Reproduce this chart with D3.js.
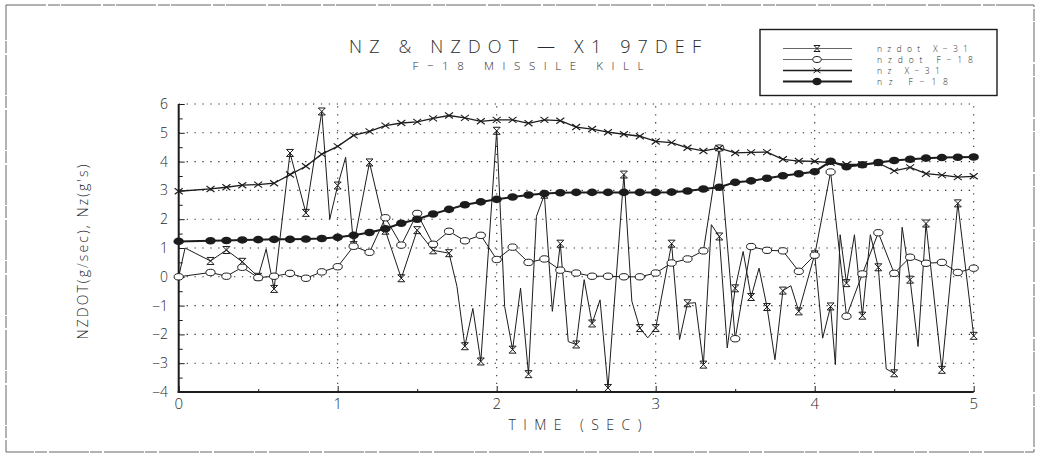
<!DOCTYPE html>
<html>
<head>
<meta charset="utf-8">
<script src="https://cdn.jsdelivr.net/npm/d3@7"></script>
<style>
  html, body { margin: 0; padding: 0; background: #fff; }
  svg { display: block; }
  text { font-family: "Open Sans", "DejaVu Sans", sans-serif; font-weight: 300; fill: #2a2a2a; }
</style>
</head>
<body>
<svg id="chart" width="1042" height="455"></svg>
<script>
// Sample times (s) shared by the 0.1 s channels
const timeNz = [0, 0.2, 0.3, 0.4, 0.5, 0.6, 0.7, 0.8, 0.9, 1.0,
  1.1, 1.2, 1.3, 1.4, 1.5, 1.6, 1.7, 1.8, 1.9, 2.0,
  2.1, 2.2, 2.3, 2.4, 2.5, 2.6, 2.7, 2.8, 2.9, 3.0,
  3.1, 3.2, 3.3, 3.4, 3.5, 3.6, 3.7, 3.8, 3.9, 4.0,
  4.1, 4.2, 4.3, 4.4, 4.5, 4.6, 4.7, 4.8, 4.9, 5.0];

// nz X-31 (g's)
const nzX31 = [2.97, 3.05, 3.11, 3.18, 3.2, 3.25, 3.55, 3.84, 4.26, 4.53,
  4.91, 5.05, 5.25, 5.34, 5.38, 5.5, 5.6, 5.52, 5.4, 5.45,
  5.45, 5.33, 5.45, 5.42, 5.2, 5.13, 5.02, 4.95, 4.88, 4.7,
  4.66, 4.48, 4.37, 4.47, 4.3, 4.32, 4.33, 4.08, 4.02, 4.01,
  3.96, 3.9, 3.9, 3.95, 3.68, 3.8, 3.58, 3.53, 3.46, 3.49];

// nz F-18 (g's)
const nzF18 = [1.23, 1.25, 1.26, 1.28, 1.29, 1.3, 1.3, 1.31, 1.33, 1.37,
  1.44, 1.54, 1.67, 1.86, 2.0, 2.18, 2.34, 2.5, 2.6, 2.69,
  2.77, 2.84, 2.89, 2.92, 2.93, 2.93, 2.93, 2.93, 2.93, 2.93,
  2.94, 2.98, 3.05, 3.11, 3.28, 3.33, 3.42, 3.51, 3.58, 3.65,
  4.01, 3.82, 3.89, 3.97, 4.04, 4.08, 4.12, 4.14, 4.15, 4.16];

// nzdot F-18 (g/sec)
const nzdotF18 = [0.0, 0.15, 0.02, 0.33, -0.03, 0.02, 0.12, -0.05, 0.17, 0.35,
  1.06, 0.85, 2.05, 1.1, 2.2, 1.13, 1.58, 1.25, 1.44, 0.6,
  1.03, 0.5, 0.62, 0.23, 0.13, 0.02, 0.02, 0.0, 0.0, 0.13,
  0.48, 0.62, 0.9, 4.47, -2.15, 1.05, 0.92, 0.9, 0.19, 0.75,
  3.64, -1.37, 0.1, 1.53, 0.12, 0.68, 0.47, 0.5, 0.15, 0.3];

// nzdot X-31 (g/sec), finer sampling
const timeNzdotX31 = [0, 0.04, 0.2, 0.3, 0.4, 0.5, 0.55, 0.6, 0.7, 0.8, 0.9, 0.95,
  1.0, 1.05, 1.1, 1.2, 1.3, 1.4, 1.5, 1.6, 1.7, 1.75, 1.8, 1.85, 1.9,
  2.0, 2.05, 2.1, 2.15, 2.2, 2.25, 2.3, 2.35, 2.4, 2.45, 2.5, 2.55, 2.6, 2.65, 2.7,
  2.8, 2.85, 2.9, 2.95, 3.0, 3.1, 3.15, 3.2, 3.25, 3.3, 3.35, 3.4, 3.45, 3.5,
  3.55, 3.6, 3.65, 3.7, 3.75, 3.8, 3.85, 3.9, 4.0, 4.05, 4.1, 4.13, 4.16,
  4.2, 4.25, 4.3, 4.35, 4.4, 4.45, 4.5, 4.55, 4.6, 4.65, 4.7, 4.8, 4.9, 5.0];
const nzdotX31 = [0.0, 1.0, 0.55, 0.93, 0.52, 0.0, 0.96, -0.42, 4.3, 2.22, 5.74, 2.0,
  3.17, 4.15, 1.1, 3.97, 1.6, -0.05, 1.62, 0.92, 0.82, -0.33, -2.41, -1.1, -2.94,
  5.07, -1.03, -2.53, -0.39, -3.38, 2.1, 2.85, -1.2, 1.15, -2.25, -2.35, -0.1, -1.62, -0.8, -3.86,
  3.55, -0.85, -1.78, -2.12, -1.78, 1.15, -2.18, -0.92, -0.9, -3.05, 1.81, 1.4, -2.47, -0.4,
  0.88, -0.7, 0.3, -1.05, -2.88, -0.48, -0.31, -1.2, 0.78, -2.13, -1.03, -3.05, 1.46,
  -0.22, 1.46, -1.35, 1.46, 0.33, -3.2, -3.35, 1.72, -0.1, -2.42, 1.85, -3.23, 2.55, -2.05];

const xTicks = [0, 1, 2, 3, 4, 5];
const yTicks = [-4, -3, -2, -1, 0, 1, 2, 3, 4, 5, 6];
const legendLabels = ["nzdot X\u221231", "nzdot F\u221218", "nz X\u221231", "nz F\u221218"];

const svg = d3.select("#chart");
const ink = "#1c1c1c";

// page frame
svg.append("rect").attr("x", 6).attr("y", 5).attr("width", 1028).attr("height", 447)
  .attr("fill", "none").attr("stroke", "#666").attr("stroke-width", 1)
  .attr("stroke-dasharray", "40,2,12,1");

const x = d3.scaleLinear().domain([0, 5]).range([178.7, 973.7]);
const y = d3.scaleLinear().domain([-4, 6]).range([392, 104]);

// dotted grid
const grid = svg.append("g").attr("stroke", "#333").attr("stroke-width", 1.1)
  .attr("stroke-dasharray", "1.3,6.6");
grid.selectAll("line.h").data(yTicks.filter(v => v > -4)).join("line")
  .attr("x1", x(0)).attr("x2", x(5)).attr("y1", d => y(d)).attr("y2", d => y(d));
grid.selectAll("line.v").data(xTicks.filter(v => v > 0)).join("line")
  .attr("x1", d => x(d)).attr("x2", d => x(d)).attr("y1", y(-4)).attr("y2", y(6));

// axes
const yAxis = d3.axisLeft(y).tickValues(d3.range(-4, 6.01, 0.5)).tickSize(-5).tickFormat("");
const gy = svg.append("g").attr("transform", `translate(${x(0)},0)`).call(yAxis);
gy.select(".domain").remove();
gy.selectAll(".tick line").attr("stroke", ink).attr("x2", d => Number.isInteger(d) ? 6 : 4);
const xAxis = d3.axisBottom(x).tickValues(d3.range(0, 5.01, 0.5)).tickSize(-5).tickFormat("");
const gx = svg.append("g").attr("transform", `translate(0,${y(-4)})`).call(xAxis);
gx.select(".domain").remove();
gx.selectAll(".tick line").attr("stroke", ink).attr("y2", d => Number.isInteger(d) ? -6 : -3);

svg.append("line").attr("x1", x(0)).attr("x2", x(0)).attr("y1", y(6)).attr("y2", y(-4) + 1)
  .attr("stroke", ink).attr("stroke-width", 2);
svg.append("line").attr("x1", x(0) - 1).attr("x2", x(5)).attr("y1", y(-4)).attr("y2", y(-4))
  .attr("stroke", ink).attr("stroke-width", 2);

// tick labels
svg.append("g").selectAll("text").data(yTicks).join("text")
  .attr("x", 168).attr("y", d => y(d) + 5).attr("text-anchor", "end")
  .attr("font-size", 14).text(d => d < 0 ? "\u2212" + Math.abs(d) : d);
svg.append("g").selectAll("text").data(xTicks).join("text")
  .attr("x", d => x(d)).attr("y", 409).attr("text-anchor", "middle")
  .attr("font-size", 15).text(d => d);

// axis titles
svg.append("text").attr("x", 575).attr("y", 430).attr("text-anchor", "middle")
  .attr("font-size", 14).attr("textLength", 133).text("TIME (SEC)");
svg.append("text").attr("transform", "translate(88,252) rotate(-90)").attr("text-anchor", "middle")
  .attr("font-size", 14).attr("textLength", 175).text("NZDOT(g/sec), Nz(g's)");

// titles
svg.append("text").attr("x", 525).attr("y", 52.5).attr("text-anchor", "middle")
  .attr("font-size", 18).attr("textLength", 352).text("NZ & NZDOT \u2014 X1 97DEF");
svg.append("text").attr("x", 528).attr("y", 70).attr("text-anchor", "middle")
  .attr("font-size", 11.5).attr("textLength", 231).text("F\u221218 MISSILE KILL");

// marker shapes
const asteriskPath = "M-3.5,-3.5L3.5,3.5M3.5,-3.5L-3.5,3.5M-3.5,-3.5H3.5M-3.5,3.5H3.5";
const crossPath = "M-4,-3L4,3M4,-3L-4,3";

const line = d3.line().x(d => x(d[0])).y(d => y(d[1]));
const plot = svg.append("g");

// nzdot X-31
const ptsDX = timeNzdotX31.map((t, i) => [t, nzdotX31[i]]);
plot.append("path").attr("d", line(ptsDX)).attr("fill", "none").attr("stroke", ink).attr("stroke-width", 1);
plot.append("g").selectAll("path").data(ptsDX.filter(d => d[0] > 0 && Math.abs(d[0] * 10 - Math.round(d[0] * 10)) < 1e-6))
  .join("path").attr("transform", d => `translate(${x(d[0])},${y(d[1])})`)
  .attr("d", asteriskPath).attr("fill", "none").attr("stroke", ink).attr("stroke-width", 1);

// nzdot F-18
const ptsDF = timeNz.map((t, i) => [t, nzdotF18[i]]);
plot.append("path").attr("d", line(ptsDF)).attr("fill", "none").attr("stroke", ink).attr("stroke-width", 1);
plot.append("g").selectAll("ellipse").data(ptsDF).join("ellipse")
  .attr("cx", d => x(d[0])).attr("cy", d => y(d[1])).attr("rx", 4.6).attr("ry", 3.2)
  .attr("fill", "#fff").attr("stroke", ink).attr("stroke-width", 1);

// nz X-31
const ptsNX = timeNz.map((t, i) => [t, nzX31[i]]);
plot.append("path").attr("d", line(ptsNX)).attr("fill", "none").attr("stroke", ink).attr("stroke-width", 1.3);
plot.append("g").selectAll("path").data(ptsNX).join("path")
  .attr("transform", d => `translate(${x(d[0])},${y(d[1])})`)
  .attr("d", crossPath).attr("fill", "none").attr("stroke", ink).attr("stroke-width", 1.1);

// nz F-18
const ptsNF = timeNz.map((t, i) => [t, nzF18[i]]);
plot.append("path").attr("d", line(ptsNF)).attr("fill", "none").attr("stroke", ink).attr("stroke-width", 2);
plot.append("g").selectAll("ellipse").data(ptsNF).join("ellipse")
  .attr("cx", d => x(d[0])).attr("cy", d => y(d[1])).attr("rx", 5.2).attr("ry", 3.8)
  .attr("fill", ink);

// legend
const lg = svg.append("g");
lg.append("rect").attr("x", 760).attr("y", 29.5).attr("width", 237).attr("height", 66)
  .attr("fill", "#fff").attr("stroke", ink).attr("stroke-width", 1.4);
const legendY = [48.5, 59.5, 70.5, 81.5];
const legendWidths = [1, 1, 1.3, 2];
const legendTextLen = [91, 96, 63, 71];
legendLabels.forEach((lab, i) => {
  const yy = legendY[i];
  lg.append("line").attr("x1", 783).attr("x2", 852).attr("y1", yy).attr("y2", yy)
    .attr("stroke", i < 2 ? "#666" : ink).attr("stroke-width", legendWidths[i]);
  if (i === 0) lg.append("path").attr("transform", `translate(817,${yy})`).attr("d", "M-3,-3L3,3M3,-3L-3,3M-3,-3H3M-3,3H3")
    .attr("fill", "none").attr("stroke", ink);
  if (i === 1) lg.append("ellipse").attr("cx", 817).attr("cy", yy).attr("rx", 4.2).attr("ry", 3)
    .attr("fill", "#fff").attr("stroke", ink);
  if (i === 2) lg.append("path").attr("transform", `translate(817,${yy})`).attr("d", "M-3.5,-2.5L3.5,2.5M3.5,-2.5L-3.5,2.5")
    .attr("fill", "none").attr("stroke", ink);
  if (i === 3) lg.append("ellipse").attr("cx", 817).attr("cy", yy).attr("rx", 4.6).attr("ry", 3.8).attr("fill", ink);
  lg.append("text").attr("x", 877).attr("y", yy + 3.2).attr("font-size", 8.6)
    .attr("textLength", legendTextLen[i]).text(lab);
});
</script>
</body>
</html>
